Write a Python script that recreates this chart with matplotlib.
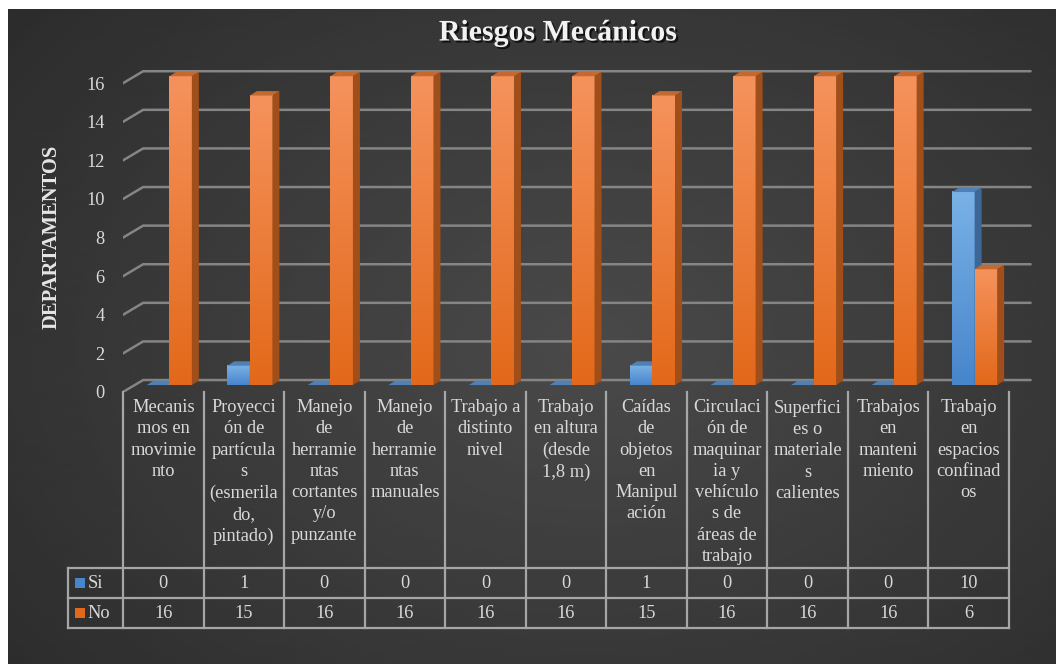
import numpy as np
import matplotlib.pyplot as plt
from matplotlib.patches import Polygon, Rectangle
from matplotlib.colors import to_rgb
import matplotlib.patheffects as pe

plt.rcParams['font.family'] = ['Liberation Serif', 'DejaVu Serif']

# data
labels = [
    "Mecanis\nmos en\nmovimie\nnto",
    "Proyecci\nón de\npartícula\ns\n(esmerila\ndo,\npintado)",
    "Manejo\nde\nherramie\nntas\ncortantes\ny/o\npunzante",
    "Manejo\nde\nherramie\nntas\nmanuales",
    "Trabajo a\ndistinto\nnivel",
    "Trabajo\nen altura\n(desde\n1,8 m)",
    "Caídas\nde\nobjetos\nen\nManipul\nación",
    "Circulaci\nón de\nmaquinar\nia y\nvehículo\ns de\náreas de\ntrabajo",
    "Superfici\nes o\nmateriale\ns\ncalientes",
    "Trabajos\nen\nmanteni\nmiento",
    "Trabajo\nen\nespacios\nconfinad\nos",
]
si = [0, 1, 0, 0, 0, 0, 1, 0, 0, 0, 10]
no = [16, 15, 16, 16, 16, 16, 15, 16, 16, 16, 6]
series_names = ["Si", "No"]
yticks = list(range(0, 17, 2))

W, H = 1056, 664
TXT = "#D9D9D9"
GRID = "#858585"
TLINE = "#A6A6A6"
FS = 13.2

# colours per series: front top, front bottom, side, top face
styles = [
    ("#7AB2E6", "#4785CC", "#3D6796", "#4F80B6"),
    ("#F5925C", "#E2691A", "#A04F1A", "#C4692F"),
]


def box(x0, y0, x1, y1):
    # pixel box (top-left origin) -> figure fraction rect
    return [x0 / W, 1 - y1 / H, (x1 - x0) / W, (y1 - y0) / H]


fig = plt.figure(figsize=(W / 100, H / 100), dpi=100)
fig.patch.set_facecolor("white")

# dark radial background
bg = fig.add_axes(box(8, 9, W, H))
yy, xx = np.mgrid[0:330, 0:524]
r = np.sqrt(((xx - 290) / 420.0) ** 2 + ((yy - 170) / 300.0) ** 2)
bg.imshow(0.29 - 0.13 * np.clip(r, 0, 1), cmap="gray", vmin=0, vmax=1,
          aspect="auto", interpolation="bicubic")
bg.axis("off")

# main (pseudo 3D) chart area
ax = fig.add_axes(box(123, 50, 1033, 392))
ax.set_xlim(-0.5, 10.8)
ax.set_ylim(0, 17.72)
ax.patch.set_alpha(0)
for s in ax.spines.values():
    s.set_visible(False)
ax.set_xticks([])
ax.set_yticks(yticks)
ax.tick_params(axis="y", length=0, pad=13.2, labelsize=FS, labelcolor=TXT)

BX, BY = 0.25, 0.62      # back wall offset
FY = 0.36                # bar front face above floor front
DX, DY = 0.087, 0.23     # bar depth
BW = 0.28
lefts = [-0.205, 0.075]

for v in yticks:
    ax.plot([-0.5, -0.5 + BX, 10.77], [v, v + BY, v + BY], color=GRID,
            lw=1.8, solid_capstyle="round", zorder=1)

for i in range(len(labels)):
    for k, vals in enumerate([si, no]):
        ftop, fbot, side, top = styles[k]
        x0 = i + lefts[k]
        x1 = x0 + BW
        y0 = FY
        y1 = FY + vals[i]
        if vals[i] > 0:
            grad = np.linspace(0, 1, 64)[:, None, None]
            img = (1 - grad) * np.array(to_rgb(ftop)) + grad * np.array(to_rgb(fbot))
            ax.imshow(img, extent=[x0, x1, y0, y1], aspect="auto",
                      interpolation="bilinear", zorder=3 + k)
            ax.add_patch(Polygon([(x1, y0), (x1 + DX, y0 + DY), (x1 + DX, y1 + DY), (x1, y1)],
                                 closed=True, fc=side, ec="none", zorder=3 + k))
        ax.add_patch(Polygon([(x0, y1), (x1, y1), (x1 + DX, y1 + DY), (x0 + DX, y1 + DY)],
                             closed=True, fc=top, ec="none", zorder=3 + k))
ax.set_xlim(-0.5, 10.8)
ax.set_ylim(0, 17.72)

ax.set_ylabel("DEPARTAMENTOS", fontsize=14.8, fontweight="bold", color="#E6E6E6")
ax.yaxis.set_label_coords(-0.067, 0.455)

fig.text(558 / W, 1 - 33 / H, "Riesgos Mecánicos", ha="center", va="center",
         fontsize=21.5, fontweight="bold", color="#F2F2F2",
         path_effects=[pe.withSimplePatchShadow(offset=(1.5, -1.5), shadow_rgbFace="black", alpha=0.7)])

# data table under the chart
tax = fig.add_axes(box(123, 392, 1033, 628))
tax.set_xlim(-0.5, 10.8)
tax.set_ylim(236, 0)
tax.axis("off")
LEG = -1.18
for i in range(len(labels) + 1):
    tax.plot([i - 0.5, i - 0.5], [0, 236], color=TLINE, lw=1.6, clip_on=False)
for yv in [176, 206, 236]:
    tax.plot([LEG, 10.5], [yv, yv], color=TLINE, lw=1.6, clip_on=False)
tax.plot([LEG, LEG], [176, 236], color=TLINE, lw=1.6, clip_on=False)

for i, lab in enumerate(labels):
    tax.text(i, 7, lab, ha="center", va="top", fontsize=FS, color=TXT,
             linespacing=1.33, clip_on=False)
    tax.text(i, 191, str(si[i]), ha="center", va="center", fontsize=FS, color=TXT)
    tax.text(i, 221, str(no[i]), ha="center", va="center", fontsize=FS, color=TXT)

for k, name in enumerate(series_names):
    yc = 191 + 30 * k
    tax.add_patch(Rectangle((-1.096, yc - 5), 0.124, 10, fc=styles[k][1], ec="none",
                            clip_on=False))
    tax.text(-0.94, yc, name, ha="left", va="center", fontsize=FS, color=TXT, clip_on=False)

fig.savefig("out.png", dpi=100)
